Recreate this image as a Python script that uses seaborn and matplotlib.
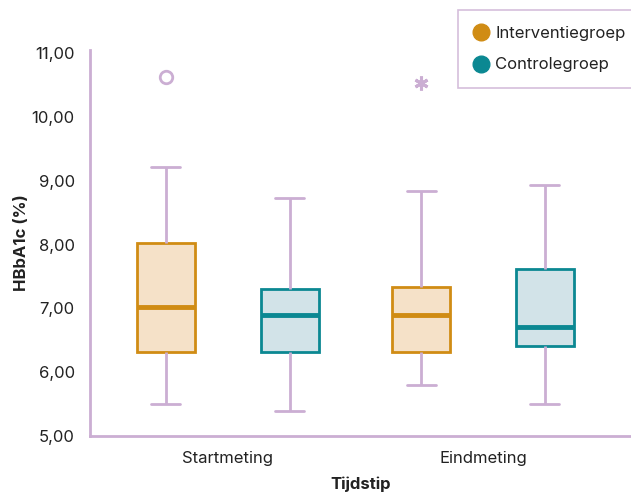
import numpy as np
import pandas as pd
import seaborn as sns
import matplotlib
matplotlib.use("Agg")
import matplotlib.pyplot as plt
from matplotlib.lines import Line2D
from matplotlib.ticker import FuncFormatter

# ---- data ----
tijdstippen = ["Startmeting", "Eindmeting"]
groepen = ["Interventiegroep", "Controlegroep"]
interventie_start = [5.50, 5.90, 6.32, 6.70, 7.02, 7.50, 8.02, 9.21, 10.62]
controle_start = [5.39, 5.90, 6.32, 6.60, 6.90, 7.10, 7.31, 8.00, 8.73]
interventie_eind = [5.80, 6.10, 6.32, 6.60, 6.90, 7.10, 7.34, 8.84, 10.53]
controle_eind = [5.50, 6.00, 6.41, 6.60, 6.71, 7.20, 7.61, 8.30, 8.93]
y_ticks = [5, 6, 7, 8, 9, 10, 11]

rows = []
for tijd, groep, vals in [
    ("Startmeting", "Interventiegroep", interventie_start),
    ("Startmeting", "Controlegroep", controle_start),
    ("Eindmeting", "Interventiegroep", interventie_eind),
    ("Eindmeting", "Controlegroep", controle_eind),
]:
    for v in vals:
        rows.append({"Tijdstip": tijd, "Groep": groep, "HbA1c": v})
df = pd.DataFrame(rows)

# ---- style ----
purple = "#CBAED3"
edge_colors = ["#D08C14", "#0B8892"]
fill_colors = ["#F5E1C8", "#D2E3E8"]
text_color = "#222222"
fs = 12

sns.set_style("white")
plt.rcParams["font.family"] = ["Inter", "DejaVu Sans"]

fig = plt.figure(figsize=(6.31, 4.92), dpi=100)
ax = fig.add_axes([90 / 631, 1 - 436 / 492, 1 - 90 / 631, (436 - 50) / 492])

sns.boxplot(
    data=df, x="Tijdstip", y="HbA1c", hue="Groep",
    order=tijdstippen, hue_order=groepen, palette=edge_colors,
    width=0.97, gap=0.53, linewidth=2,
    whiskerprops=dict(color=purple, linewidth=2),
    capprops=dict(color=purple, linewidth=2),
    medianprops=dict(linewidth=3.5),
    flierprops=dict(marker="o", markersize=9, markerfacecolor="none",
                    markeredgecolor=purple, markeredgewidth=2),
    legend=False, ax=ax,
)

all_groups = {
    ("Interventiegroep", 0): interventie_start,
    ("Interventiegroep", 1): interventie_eind,
    ("Controlegroep", 0): controle_start,
    ("Controlegroep", 1): controle_eind,
}
for i, cont in enumerate(ax.containers):
    for box in cont.boxes:
        box.set_facecolor(fill_colors[i])
        box.set_edgecolor(edge_colors[i])
        box.set_linewidth(2)
    for m in cont.medians:
        m.set_color(edge_colors[i])
    for j, fl in enumerate(cont.fliers):
        vals = np.asarray(all_groups[(groepen[i], j)])
        q1, q3 = np.percentile(vals, [25, 75])
        ys = np.asarray(fl.get_ydata(), dtype=float)
        if ys.size and np.any(ys > q3 + 3 * (q3 - q1)):
            fl.set_marker((6, 2, 0))
            fl.set_markersize(10)
            fl.set_markeredgewidth(2.2)
            fl.set_markeredgecolor(purple)

ax.set_xlim(-0.54, 1.58)
ax.set_ylim(5, 11.05)
ax.set_yticks(y_ticks)
ax.yaxis.set_major_formatter(FuncFormatter(lambda v, p: f"{v:.2f}".replace(".", ",")))

for s in ["top", "right"]:
    ax.spines[s].set_visible(False)
for s in ["left", "bottom"]:
    ax.spines[s].set_color(purple)
    ax.spines[s].set_linewidth(2)
ax.tick_params(axis="both", colors=purple, length=7, width=2,
               labelsize=fs, labelcolor=text_color, pad=4)

ax.set_ylabel("HBbA1c (%)", fontsize=fs, fontweight="bold", color=text_color, labelpad=2)
ax.set_xlabel("Tijdstip", fontsize=fs, fontweight="bold", color=text_color, labelpad=7)

handles = [Line2D([0], [0], marker="o", linestyle="none", markersize=12,
                  markerfacecolor=c, markeredgecolor=c) for c in edge_colors]
leg = fig.legend(handles, groepen, loc="upper left",
                 bbox_to_anchor=(458 / 631, 1 - 10 / 492),
                 frameon=True, fancybox=False, fontsize=fs,
                 handlelength=0.9, handletextpad=0.4, borderpad=0.95,
                 labelspacing=1.0, borderaxespad=0)
leg.get_frame().set_edgecolor(purple)
leg.get_frame().set_linewidth(1.2)
for t in leg.get_texts():
    t.set_color(text_color)

fig.savefig("out.png", dpi=100)
